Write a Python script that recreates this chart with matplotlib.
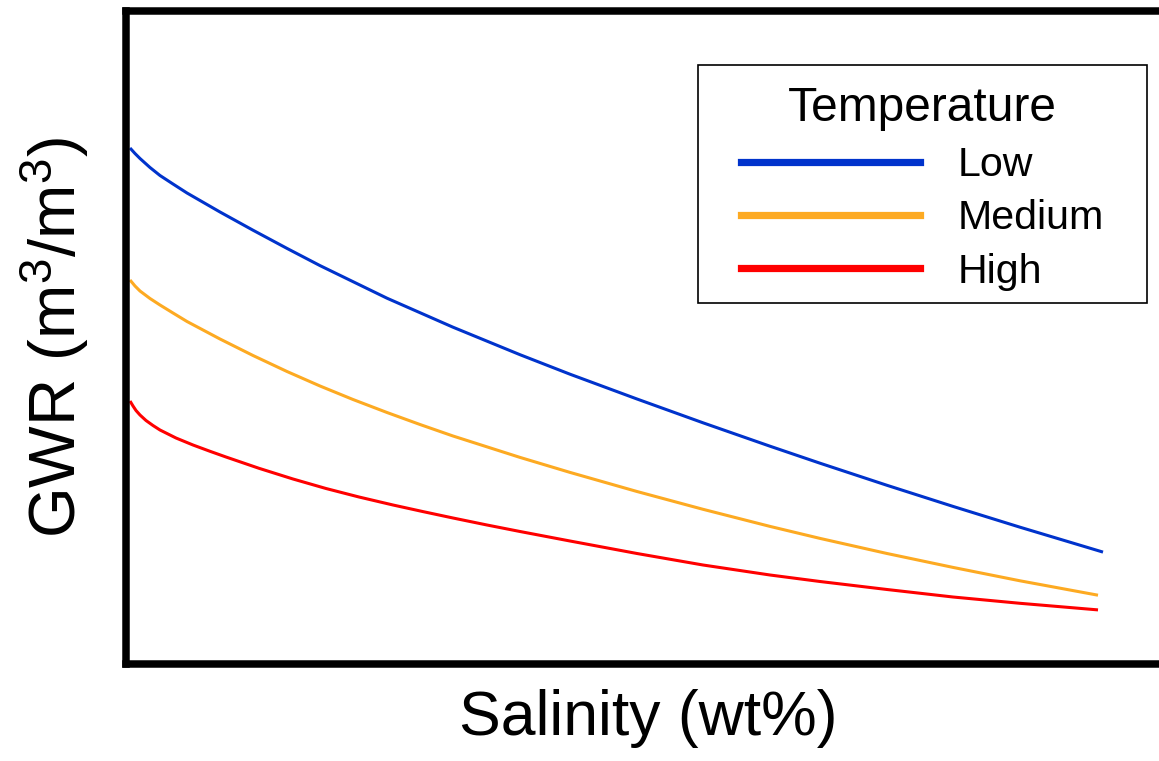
import matplotlib
matplotlib.use("Agg")
import matplotlib.pyplot as plt
from matplotlib.lines import Line2D
from matplotlib.patches import Rectangle

plt.rcParams["font.family"] = ["Liberation Sans", "DejaVu Sans"]
plt.rcParams["mathtext.fontset"] = "custom"
plt.rcParams["mathtext.rm"] = "Liberation Sans"
plt.rcParams["mathtext.it"] = "Liberation Sans:italic"

# Salinity (wt%) and gas-water ratio, low temperature
sal_low = [0.04, 0.09, 0.14, 0.24, 0.34, 0.47, 0.61, 0.94, 1.27, 1.61, 1.94, 2.61, 3.27,
           3.94, 4.44, 5.11, 5.77, 6.44, 6.94, 7.61, 8.27, 8.94, 9.77]
gwr_low = [5.155, 5.100, 5.050, 4.960, 4.880, 4.795, 4.705, 4.515, 4.333, 4.151, 3.979,
           3.653, 3.363, 3.088, 2.893, 2.645, 2.407, 2.173, 2.003, 1.782, 1.571, 1.363, 1.114]

# medium temperature
sal_med = [0.04, 0.09, 0.14, 0.24, 0.34, 0.47, 0.61, 0.94, 1.27, 1.61, 1.94, 2.27, 2.61,
           2.94, 3.27, 3.94, 4.44, 5.11, 5.77, 6.44, 6.94, 7.61, 8.27, 8.94, 9.72]
gwr_med = [3.835, 3.775, 3.725, 3.650, 3.585, 3.505, 3.420, 3.245, 3.080, 2.920, 2.775,
           2.640, 2.510, 2.390, 2.275, 2.061, 1.911, 1.720, 1.542, 1.371, 1.251, 1.100,
           0.961, 0.827, 0.683]

# high temperature
sal_high = [0.04, 0.07, 0.10, 0.14, 0.20, 0.27, 0.34, 0.50, 0.67, 0.84, 1.00, 1.33, 1.67,
            2.00, 2.33, 2.67, 2.97, 3.27, 3.61, 3.94, 4.44, 5.11, 5.77, 6.44, 6.94, 7.61,
            8.27, 8.94, 9.72]
gwr_high = [2.625, 2.575, 2.530, 2.485, 2.430, 2.380, 2.335, 2.255, 2.185, 2.122, 2.065,
            1.952, 1.845, 1.750, 1.665, 1.585, 1.519, 1.455, 1.385, 1.320, 1.225, 1.100,
            0.985, 0.885, 0.820, 0.740, 0.665, 0.602, 0.536]

labels = ["Low", "Medium", "High"]
colors = ["#0033CC", "#FDAA22", "#FF0000"]

W, H = 1159, 761
fig = plt.figure(figsize=(W / 100, H / 100), dpi=100)
ax = fig.add_axes([126 / W, 97.5 / H, 1037 / W, 653 / H])

for x, y, c in zip([sal_low, sal_med, sal_high], [gwr_low, gwr_med, gwr_high], colors):
    ax.plot(x, y, color=c, lw=2.2, solid_capstyle="butt", solid_joinstyle="round")

ax.set_xlim(0, 10.37)
ax.set_ylim(0, 6.53)
ax.set_xticks([])
ax.set_yticks([])
for s in ax.spines.values():
    s.set_linewidth(5.4)
    s.set_color("black")

fig.text(648 / W, 1 - 718 / H, "Salinity (wt%)", fontsize=45, ha="center", va="center")
fig.text(55 / W, 1 - 337 / H, "GWR (m$^3$/m$^3$)", fontsize=47, ha="center", va="center",
         rotation=90)

# legend frame drawn separately so the inner spacing can be set freely
frame = Rectangle((698 / W, 1 - 303 / H), 449 / W, 238 / H, transform=fig.transFigure,
                  facecolor="white", edgecolor="black", lw=1.2, zorder=4, clip_on=False)
ax.add_artist(frame)

handles = [Line2D([], [], color=c, lw=5.2) for c in colors]
leg = ax.legend(handles, labels, title="Temperature", loc="upper left",
                bbox_to_anchor=(741 / W, 1 - 86 / H), bbox_transform=fig.transFigure,
                borderaxespad=0, fontsize=29.6, title_fontsize=34.5,
                handlelength=4.35, handletextpad=0.92, borderpad=0,
                labelspacing=0.37, frameon=False)
leg.set_zorder(5)

fig.savefig("out.png", dpi=100)
